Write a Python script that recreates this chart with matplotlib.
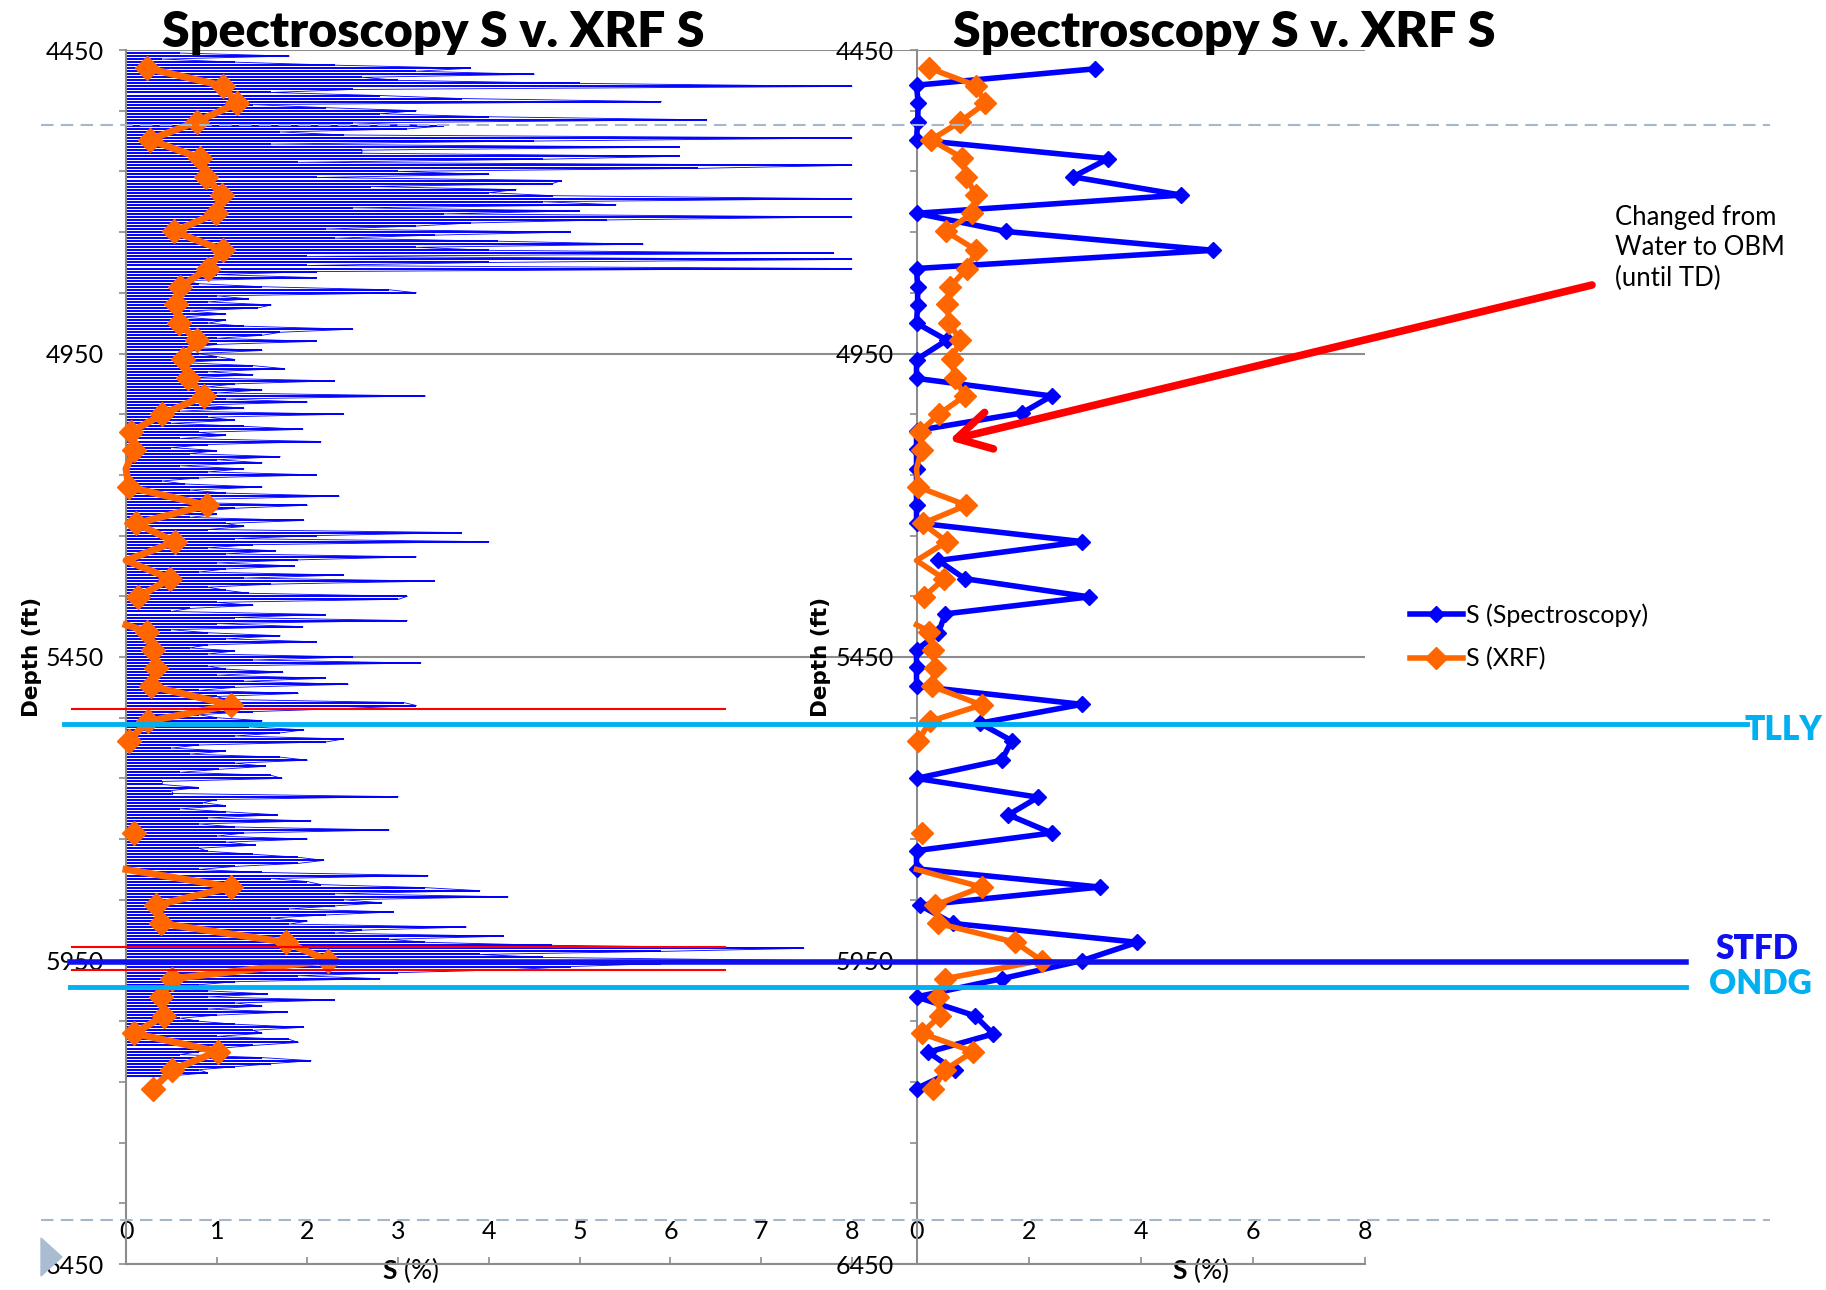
import numpy as np
import matplotlib
matplotlib.use("Agg")
from matplotlib import pyplot as plt
from matplotlib.lines import Line2D
from matplotlib.patches import Polygon
from matplotlib.transforms import blended_transform_factory

plt.rcParams['font.family'] = ['Lato', 'DejaVu Sans']
plt.rcParams['mathtext.fontset'] = 'custom'
plt.rcParams['mathtext.bf'] = 'Lato:bold'
plt.rcParams['mathtext.rm'] = 'Lato'

# High-resolution spectroscopy S log (%), one reading every 5 ft from 4455 ft
log_top = 4455
log_step = 5
log_s = [
    0.6, 1.8, 0.4, 1.2, 2.3, 3.8, 3.2, 4.5, 2.6, 3.0,
    5.0, 8.0, 2.5, 1.6, 2.8, 3.7, 5.9, 1.4, 2.2, 3.2,
    2.8, 4.0, 6.4, 2.5, 3.5, 3.1, 1.7, 2.4, 8.0, 4.5,
    1.6, 6.1, 2.6, 2.6, 6.1, 4.6, 1.9, 8.0, 6.3, 3.0,
    4.0, 2.1, 4.8, 4.7, 2.7, 4.3, 4.0, 4.7, 8.0, 4.6,
    5.4, 2.5, 5.0, 3.5, 8.0, 5.3, 3.8, 3.2, 2.2, 4.9,
    3.4, 2.3, 4.1, 5.7, 3.2, 4.0, 7.8, 2.0, 8.0, 4.0,
    2.0, 8.0, 2.1, 1.0, 2.1, 0.6, 0.8, 1.5, 2.9, 3.2,
    1.0, 1.35, 0.9, 1.6, 1.45, 0.7, 1.1, 0.6, 1.1, 0.9,
    1.3, 2.5, 1.7, 1.5, 1.0, 2.1, 1.0, 0.7, 1.5, 0.8,
    1.0, 1.2, 0.6, 1.4, 1.75, 0.9, 1.4, 0.7, 2.3, 1.2,
    0.9, 1.5, 1.0, 3.3, 1.1, 2.0, 0.8, 1.3, 0.6, 2.4,
    0.9, 1.2, 0.5, 1.3, 1.95, 0.8, 1.1, 0.6, 2.15, 0.9,
    0.5, 1.0, 0.7, 1.7, 1.0, 1.5, 0.6, 1.3, 0.9, 2.1,
    0.8, 0.4, 0.65, 1.5, 0.7, 1.1, 2.35, 0.9, 0.6, 2.0,
    1.2, 0.8, 1.0, 0.7, 1.96, 1.1, 1.3, 0.9, 3.7, 2.1,
    1.2, 4.0, 1.4, 0.9, 1.65, 1.1, 3.2, 1.9, 1.0, 1.86,
    1.1, 0.8, 2.4, 1.3, 3.4, 1.6, 0.9, 1.1, 1.35, 3.1,
    3.0, 1.0, 1.4, 0.7, 0.5, 2.2, 1.2, 3.1, 1.0, 1.95,
    0.5, 0.9, 1.7, 1.1, 2.1, 0.9, 0.7, 1.2, 0.9, 2.5,
    1.4, 3.25, 0.9, 1.1, 1.73, 1.0, 2.2, 1.3, 2.45, 1.2,
    0.8, 1.9, 1.0, 1.1, 3.06, 3.2, 2.4, 1.4, 0.8, 1.0,
    1.5, 1.1, 1.35, 1.96, 1.7, 1.2, 2.4, 2.2, 0.8, 0.5,
    1.1, 0.7, 1.7, 2.0, 1.2, 1.54, 1.03, 0.6, 1.6, 1.72,
    0.4, 0.4, 0.8, 0.5, 0.52, 3.0, 1.0, 0.85, 1.1, 0.6,
    1.1, 1.67, 0.9, 2.04, 0.8, 1.2, 2.9, 1.3, 1.0, 2.0,
    1.1, 1.43, 0.8, 0.9, 1.4, 1.9, 2.18, 1.9, 1.2, 0.8,
    1.5, 3.33, 1.6, 2.0, 2.15, 3.3, 3.9, 2.3, 4.21, 2.4,
    2.82, 2.3, 1.8, 2.95, 2.2, 1.6, 2.0, 1.8, 3.75, 2.6,
    2.3, 4.16, 2.9, 3.3, 4.69, 7.47, 5.9, 3.9, 4.6, 7.5,
    5.9, 4.9, 4.26, 3.0, 1.9, 2.8, 1.2, 0.8, 0.6, 0.9,
    1.56, 0.9, 2.3, 1.2, 1.5, 0.9, 1.78, 1.0, 0.6, 0.8,
    1.2, 1.96, 1.4, 1.5, 1.0, 1.8, 1.9, 1.4, 1.0, 0.8,
    0.6, 1.5, 2.04, 1.6, 1.2, 0.8, 0.9, 0.5,
]

# Spectroscopy S sampled at the XRF interval
spec_depth = [4481, 4508, 4538, 4568, 4598, 4629, 4659, 4689, 4719, 4749,
              4780, 4810, 4840, 4870, 4900, 4928, 4960, 4991, 5020, 5048,
              5077, 5108, 5140, 5170, 5200, 5229, 5260, 5291, 5321, 5351,
              5379, 5411, 5438, 5466, 5498, 5528, 5559, 5588, 5620, 5650,
              5681, 5710, 5740, 5769, 5799, 5829, 5859, 5889, 5920, 5950,
              5980, 6010, 6041, 6071, 6101, 6131, 6161]
spec_s = [3.18, 0.0, 0.03, 0.02, 0.0, 3.42, 2.79, 4.72, 0.0, 1.60,
          5.29, 0.0, 0.02, 0.02, 0.0, 0.54, 0.0, 0.0, 2.41, 1.88,
          0.0, 0.0, 0.0, 0.0, 0.0, 0.0, 2.96, 0.39, 0.86, 3.08,
          0.51, 0.39, 0.0, 0.0, 0.0, 2.95, 1.13, 1.70, 1.52, 0.0,
          2.17, 1.64, 2.41, 0.0, 0.0, 3.27, 0.06, 0.65, 3.94, 2.96,
          1.52, 0.0, 1.04, 1.37, 0.21, 0.68, 0.0]

# XRF S on cuttings (nan = no sample, 0 = empty cell plotted without marker)
xrf_depth = [4480, 4509, 4538, 4568, 4598, 4628, 4659, 4689, 4719, 4749,
             4780, 4810, 4840, 4869, 4899, 4928, 4959, 4990, 5020, 5050,
             5079, 5109, 5140, 5170, 5200, 5230, 5260, 5291, 5321, 5351,
             5379, 5397, 5408, 5438, 5468, 5498, 5529, 5556, 5588, 5650,
             5740, 5770, 5800, 5829, 5859, 5889, 5920, 5950, 5980, 6010,
             6041, 6070, 6100, 6130, 6161]
xrf_s = [0.23, 1.07, 1.22, 0.78, 0.26, 0.82, 0.88, 1.06, 0.99, 0.53,
         1.07, 0.90, 0.60, 0.55, 0.58, 0.78, 0.63, 0.68, 0.86, 0.40,
         0.06, 0.09, 0.0, 0.03, 0.89, 0.11, 0.54, 0.0, 0.49, 0.13,
         np.nan, 0.0, 0.23, 0.30, 0.33, 0.27, 1.16, 0.24, 0.03, np.nan,
         0.09, np.nan, 0.0, 1.16, 0.33, 0.39, 1.76, 2.23, 0.51, 0.39,
         0.42, 0.09, 1.01, 0.51, 0.30]

# formation tops
tops_name = ['TLLY', 'STFD', 'ONDG']
tops_depth = [5561, 5953, 5993]

# red marker lines on the log track
red_depth = [5536, 5928, 5965]

BLUE = '#0000FF'
ORANGE = '#FF6600'
CYAN = '#00B0F0'
GREY = '#8C8C8C'

W, H = 1826, 1290
fig = plt.figure(figsize=(W / 100, H / 100), dpi=100)


def fx(px):
    return px / W


def fy(py):
    return 1 - py / H


ax1 = fig.add_axes([fx(126), fy(1264), fx(915.5) - fx(126), fy(50) - fy(1264)])
ax2 = fig.add_axes([fx(916.5), fy(1264), fx(1365) - fx(916.5), fy(50) - fy(1264)])


def style_axis(ax, xmax, xticks):
    ax.set_ylim(6450, 4450)
    ax.set_xlim(0, xmax)
    ax.set_yticks(range(4450, 6451, 500))
    ax.set_yticks(range(4450, 6451, 100), minor=True)
    ax.set_xticks(xticks)
    ax.grid(axis='y', which='major', color=GREY, lw=1.5)
    ax.set_axisbelow(True)
    ax.spines['top'].set_visible(False)
    ax.spines['right'].set_visible(False)
    for s in ['left', 'bottom']:
        ax.spines[s].set_color(GREY)
        ax.spines[s].set_linewidth(1.5)
    ax.tick_params(axis='y', which='both', direction='out', length=5, width=1.2,
                   color=GREY, labelsize=18, pad=11)
    ax.tick_params(axis='x', direction='in', length=5, width=1.2, color=GREY,
                   labelsize=18, pad=-32)
    ax.patch.set_alpha(0)


style_axis(ax1, 8.7, range(0, 9))
style_axis(ax2, 8, range(0, 9, 2))

# left track: high-res log as spikes plus XRF
log_depth = log_top + log_step * np.arange(len(log_s))
ax1.hlines(log_depth, 0, log_s, color=BLUE, lw=1.4, zorder=2)
ax1.plot(log_s, log_depth, color=BLUE, lw=0.6, zorder=2)
xrf_marks = [i for i, v in enumerate(xrf_s) if v > 0]
ax1.plot(xrf_s, xrf_depth, color=ORANGE, lw=5, marker='D', ms=12,
         markevery=xrf_marks, clip_on=False, zorder=4)
for d in red_depth:
    ax1.plot([-0.6, 6.6], [d, d], color='red', lw=1.5, clip_on=False, zorder=5)

# right track
ax2.plot(spec_s, spec_depth, color=BLUE, lw=4, marker='D', ms=8,
         clip_on=False, zorder=3, label='S (Spectroscopy)')
ax2.plot(xrf_s, xrf_depth, color=ORANGE, lw=4, marker='D', ms=11,
         markevery=xrf_marks, clip_on=False, zorder=4, label='S (XRF)')

for ax, lx in [(ax1, 0.36), (ax2, 0.634)]:
    ax.set_xlabel(r'$\mathbf{S}$ (%)', fontsize=19)
    ax.xaxis.set_label_coords(lx, 0.007)
for ax, lx in [(ax1, -0.107), (ax2, -0.19)]:
    ax.set_ylabel('Depth (ft)', fontsize=15.5, fontweight='bold', family='DejaVu Sans')
    ax.yaxis.set_label_coords(lx, 0.5)

ax2.legend(loc='center left', bbox_to_anchor=(fx(1410), fy(637)),
           bbox_transform=fig.transFigure, frameon=False, fontsize=18,
           borderaxespad=0, borderpad=0, handlelength=2.1, handletextpad=0.15,
           labelspacing=0.8)

for cx in [433, 1224]:
    fig.text(fx(cx), fy(47), 'Spectroscopy S v. XRF S', ha='center', va='baseline',
             fontsize=36, fontweight='heavy')

# formation tops across both tracks
trans = blended_transform_factory(fig.transFigure, ax1.transData)
top_style = {
    'TLLY': dict(color=CYAN, lw=3.5, x0=64, x1=1747),
    'STFD': dict(color='#1010EE', lw=4, x0=70, x1=1686),
    'ONDG': dict(color=CYAN, lw=3.5, x0=70, x1=1686),
}
label_pos = {'TLLY': (1822, 730, 'right'), 'STFD': (1757, 949, 'center'),
             'ONDG': (1760, 984, 'center')}
for name, d in zip(tops_name, tops_depth):
    st = top_style[name]
    fig.add_artist(Line2D([fx(st['x0']), fx(st['x1'])], [d, d], transform=trans,
                          color=st['color'], lw=st['lw'], zorder=6))
    px, py, ha = label_pos[name]
    fig.text(fx(px), fy(py), name, ha=ha, va='center', fontsize=24,
             fontweight='heavy', color=st['color'])

# slide decorations
for py in [124.6, 1220]:
    fig.add_artist(Line2D([fx(41), fx(1770)], [fy(py), fy(py)], transform=fig.transFigure,
                          color='#A5B8CB', lw=1.5, ls=(0, (6, 3.5)), zorder=1))
fig.add_artist(Polygon([[fx(41), fy(1238)], [fx(41), fy(1276)], [fx(62), fy(1257)]],
                       closed=True, transform=fig.transFigure, color='#A9BCD1'))

# mud change note
fig.text(fx(1615), fy(248), 'Changed from\nWater to OBM\n(until TD)', ha='left',
         va='center', fontsize=18.5, linespacing=1.25)
ax2.annotate('', xy=(0.58, 5093), xycoords='data',
             xytext=(fx(1592), fy(285)), textcoords='figure fraction',
             arrowprops=dict(arrowstyle='->,head_length=0.8,head_width=0.45',
                             color='red', lw=5.5, mutation_scale=30,
                             shrinkA=0, shrinkB=0),
             annotation_clip=False, zorder=7)

fig.savefig('out.png', dpi=100)
